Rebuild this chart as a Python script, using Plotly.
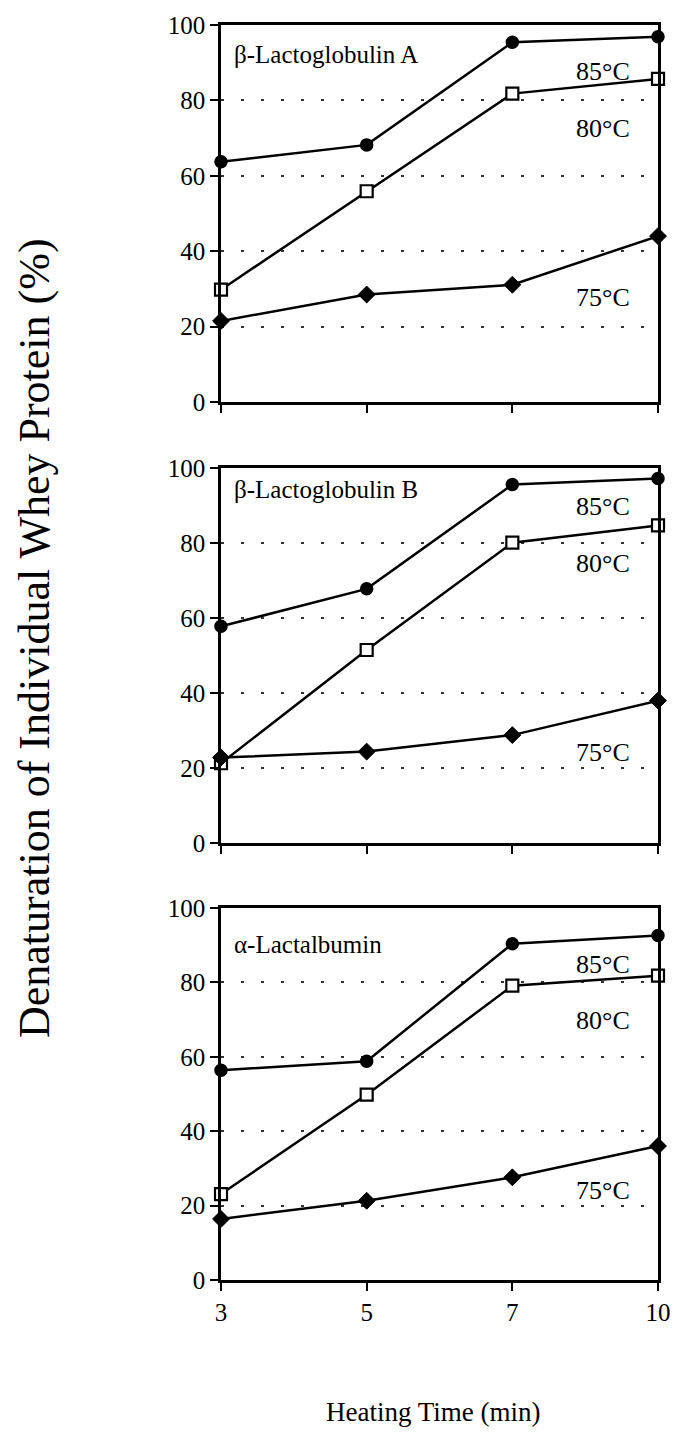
import plotly.graph_objects as go

# ---- data ----
times = ["3", "5", "7", "10"]

panel_titles = ["β-Lactoglobulin A", "β-Lactoglobulin B", "α-Lactalbumin"]

lgA_85 = [63.7, 68.2, 95.4, 96.9]
lgA_80 = [29.8, 55.9, 81.8, 85.7]
lgA_75 = [21.5, 28.5, 31.1, 44.0]

lgB_85 = [57.9, 67.9, 95.7, 97.3]
lgB_80 = [21.4, 51.6, 80.2, 84.8]
lgB_75 = [22.9, 24.5, 28.9, 38.1]

la_85 = [56.4, 58.8, 90.4, 92.6]
la_80 = [23.1, 49.8, 79.1, 81.8]
la_75 = [16.4, 21.3, 27.6, 36.0]

temps = ["85°C", "80°C", "75°C"]
y_ticks = [0, 20, 40, 60, 80, 100]

panels = [
    (lgA_85, lgA_80, lgA_75),
    (lgB_85, lgB_80, lgB_75),
    (la_85, la_80, la_75),
]

# label y-positions (data units) per panel: title, 85, 80, 75
label_y = [
    (92.1, 87.6, 72.6, 27.6),
    (94.4, 89.9, 74.6, 24.3),
    (90.2, 84.9, 69.8, 24.0),
]

FONT = "Liberation Serif, Times New Roman, serif"

W, H = 683, 1436
L, R, T, B = 221, 23, 15, 156
ph = H - T - B
def py(pix):
    return (H - B - pix) / ph

domains = [
    [py(395), 1.0],
    [py(840), py(462)],
    [0.0, py(905)],
]

fig = go.Figure()

marker_styles = [
    dict(symbol="circle", size=12, color="black", line=dict(color="black", width=1.5)),
    dict(symbol="square", size=12, color="white", line=dict(color="black", width=2.2)),
    dict(symbol="diamond", size=13, color="black", line=dict(color="black", width=1)),
]

for i, series in enumerate(panels):
    ax = "" if i == 0 else str(i + 1)
    for s, vals in enumerate(series):
        fig.add_trace(go.Scatter(
            x=times, y=vals, mode="lines+markers",
            line=dict(color="black", width=2.5),
            marker=marker_styles[s],
            xaxis="x" + ax, yaxis="y" + ax,
            showlegend=False, cliponaxis=False,
            name=temps[s],
        ))

layout = dict(
    width=W, height=H,
    margin=dict(l=L, r=R, t=T, b=B),
    paper_bgcolor="white", plot_bgcolor="white",
    font=dict(family=FONT, size=25, color="black"),
    showlegend=False,
)

for i in range(3):
    ax = "" if i == 0 else str(i + 1)
    xkey = "xaxis" + ax
    ykey = "yaxis" + ax
    layout[xkey] = dict(
        type="category", categoryorder="array", categoryarray=times,
        range=[0, 3], domain=[0, 1], anchor="y" + ax,
        showline=True, linecolor="black", linewidth=2.5, mirror=True,
        ticks="outside", ticklen=8, tickwidth=1.5, tickcolor="black",
        showticklabels=(i == 2), showgrid=False, zeroline=False,
        tickfont=dict(family=FONT, size=25),
    )
    layout[ykey] = dict(
        range=[0, 100], domain=domains[i], anchor="x" + ax,
        tickvals=y_ticks,
        showline=True, linecolor="black", linewidth=2.5, mirror=True,
        ticks="outside", ticklen=8, tickwidth=1.5, tickcolor="black",
        showgrid=True, gridcolor="#333333", gridwidth=1.6, griddash="3px,17px",
        zeroline=False, tickfont=dict(family=FONT, size=25),
    )

fig.update_layout(**layout)

annotations = []
for i in range(3):
    ax = "" if i == 0 else str(i + 1)
    ty, y85, y80, y75 = label_y[i]
    annotations.append(dict(
        x=(232 - L) / (W - L - R), xref="x" + ax + " domain", y=ty, yref="y" + ax,
        text=panel_titles[i], showarrow=False, xanchor="left", yanchor="middle",
        font=dict(family=FONT, size=25),
    ))
    for t, yy in zip(temps, (y85, y80, y75)):
        annotations.append(dict(
            x=(634 - L) / (W - L - R), xref="x" + ax + " domain", y=yy, yref="y" + ax,
            text=t, showarrow=False, xanchor="right", yanchor="middle",
            font=dict(family=FONT, size=26),
        ))

annotations.append(dict(
    x=(33 - L) / (W - L - R), xref="paper", y=py(633), yref="paper",
    text="Denaturation of Individual Whey Protein (%)", showarrow=False,
    textangle=-90, xanchor="center", yanchor="middle",
    font=dict(family=FONT, size=44),
))
annotations.append(dict(
    x=(434 - L) / (W - L - R), xref="paper", y=py(1413), yref="paper",
    text="Heating Time (min)", showarrow=False,
    xanchor="center", yanchor="middle",
    font=dict(family=FONT, size=27),
))

fig.update_layout(annotations=annotations)

fig.write_html("out.html")
